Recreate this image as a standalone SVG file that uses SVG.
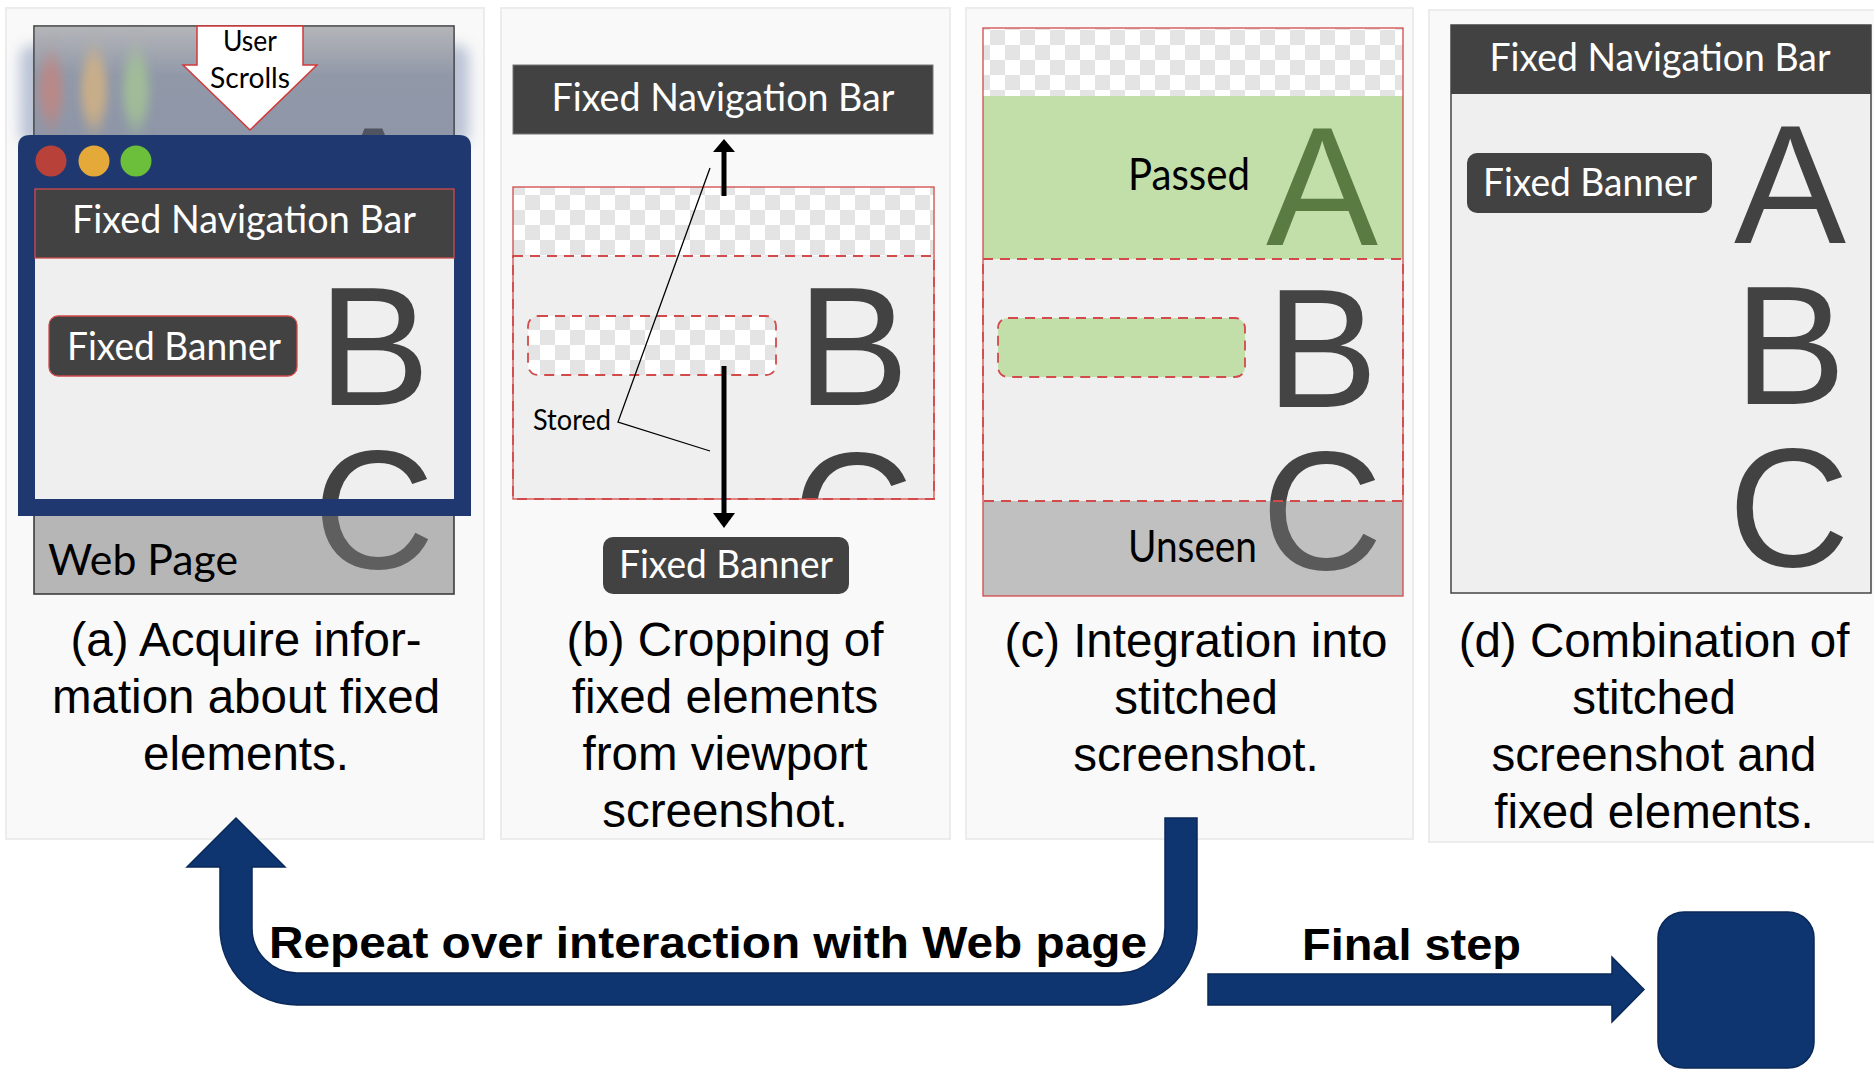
<svg xmlns="http://www.w3.org/2000/svg" width="1874" height="1074" viewBox="0 0 1874 1074">
  <style>
    .panel { fill: #f9f9f9; stroke: #ececec; stroke-width: 2; }
    .bar { fill: #424242; }
    .lbl { font-family: Lato, "Open Sans", "DejaVu Sans", sans-serif; fill: #ffffff; font-size: 38px; }
    .dark { font-family: Lato, "Open Sans", "DejaVu Sans", sans-serif; fill: #000000; }
    .big { font-family: "Liberation Sans", Arial, sans-serif; font-size: 168px; text-anchor: middle; }
    .cap { font-family: "Liberation Sans", Arial, sans-serif; font-size: 47.5px; text-anchor: middle; fill: #000; }
    .bold { font-family: "Liberation Sans", Arial, sans-serif; font-weight: bold; font-size: 44px; fill: #000; }
    .redline { fill: none; stroke: #d24a4a; stroke-width: 1.3; }
    .dash { fill: none; stroke: #d24a4a; stroke-width: 1.8; stroke-dasharray: 10 7; }
    .flow { fill: #0e3570; stroke: #0a2858; stroke-width: 1.5; }
  </style>
  <defs>
    <pattern id="checker" width="30" height="30" patternUnits="userSpaceOnUse">
      <rect width="30" height="30" fill="#ffffff"/>
      <rect width="15" height="15" fill="#e4e4e4"/>
      <rect x="15" y="15" width="15" height="15" fill="#e4e4e4"/>
    </pattern>
    <linearGradient id="pageTop" x1="0" y1="26" x2="0" y2="135" gradientUnits="userSpaceOnUse">
      <stop offset="0" stop-color="#b4b5b8"/>
      <stop offset="0.45" stop-color="#9199a9"/>
      <stop offset="1" stop-color="#8e96a7"/>
    </linearGradient>
    <filter id="motion" x="-30%" y="-60%" width="160%" height="220%">
      <feGaussianBlur stdDeviation="4 10"/>
    </filter>
    <filter id="glow" x="-20%" y="-60%" width="140%" height="220%">
      <feGaussianBlur stdDeviation="7"/>
    </filter>
    <clipPath id="aboveA"><rect x="34" y="26" width="420" height="109"/></clipPath>
    <clipPath id="viewA"><rect x="35" y="189" width="419" height="310"/></clipPath>
    <clipPath id="shotB"><rect x="513" y="187" width="421" height="312"/></clipPath>
    <clipPath id="seenC"><rect x="983" y="28" width="420" height="473"/></clipPath>
    <clipPath id="unseenC"><rect x="983" y="501" width="420" height="95"/></clipPath>
  </defs>

  <!-- panel backgrounds -->
  <g id="panels">
    <rect class="panel" x="6" y="8" width="478" height="831"/>
    <rect class="panel" x="501" y="8" width="449" height="831"/>
    <rect class="panel" x="966" y="8" width="447" height="831"/>
    <rect class="panel" x="1429" y="10" width="452" height="832"/>
  </g>

  <!-- (a) browser viewport over the web page -->
  <g id="step-a">
    <rect x="20" y="45" width="449" height="100" rx="12" fill="#aab5cc" filter="url(#glow)" opacity="0.8"/>
    <rect x="34" y="26" width="420" height="568" fill="#b6b6b6" stroke="#333" stroke-width="1.5"/>
    <rect x="34.75" y="26.75" width="418.5" height="110" fill="url(#pageTop)"/>
    <g filter="url(#motion)">
      <ellipse cx="51" cy="90" rx="12" ry="34" fill="#cc7f76" opacity="0.65"/>
      <ellipse cx="94" cy="90" rx="13" ry="38" fill="#e0b77c" opacity="0.7"/>
      <ellipse cx="136" cy="90" rx="13" ry="38" fill="#a6cb92" opacity="0.7"/>
    </g>
    <text class="big" x="373" y="245" fill="#4f5460" clip-path="url(#aboveA)">A</text>
    <text class="big" x="374" y="568" fill="#5f5f5f">C</text>

    <path d="M18,516 V147 Q18,135 30,135 H459 Q471,135 471,147 V516 Z" fill="#1f3970"/>
    <rect x="35" y="189" width="419" height="310" fill="#efefef"/>
    <circle cx="51" cy="161" r="15.5" fill="#b8423a"/>
    <circle cx="94" cy="161" r="15.5" fill="#e5a93a"/>
    <circle cx="136" cy="161" r="15.5" fill="#6cbf3b"/>

    <g clip-path="url(#viewA)">
      <text class="big" x="374" y="405" fill="#424242">B</text>
      <text class="big" x="374" y="568" fill="#424242">C</text>
    </g>
    <rect class="bar" x="35" y="189" width="419" height="69" stroke="#d24a4a" stroke-width="1.3"/>
    <text class="lbl" x="244" y="233" text-anchor="middle" textLength="344" lengthAdjust="spacingAndGlyphs">Fixed Navigation Bar</text>
    <rect class="bar" x="49" y="316" width="248" height="60" rx="9" stroke="#d24a4a" stroke-width="1.3"/>
    <text class="lbl" x="174" y="360" text-anchor="middle" textLength="214" lengthAdjust="spacingAndGlyphs">Fixed Banner</text>

    <polygon points="197,26 303,26 303,65 317,65 250,130 183,65 197,65" fill="#ffffff" stroke="#d23a3a" stroke-width="1.5"/>
    <text class="dark" x="250" y="51" font-size="28" text-anchor="middle" textLength="54" lengthAdjust="spacingAndGlyphs">User</text>
    <text class="dark" x="250" y="88" font-size="28" text-anchor="middle" textLength="80" lengthAdjust="spacingAndGlyphs">Scrolls</text>
    <text class="dark" x="48" y="575" font-size="42" textLength="190" lengthAdjust="spacingAndGlyphs">Web Page</text>

    <text class="cap" x="246" y="656">(a) Acquire infor-</text>
    <text class="cap" x="246" y="713">mation about fixed</text>
    <text class="cap" x="246" y="770">elements.</text>
  </g>

  <!-- (b) cropping of fixed elements -->
  <g id="step-b">
    <rect class="bar" x="513" y="65" width="420" height="69" stroke="#777" stroke-width="1"/>
    <text class="lbl" x="723" y="111" text-anchor="middle" textLength="343" lengthAdjust="spacingAndGlyphs">Fixed Navigation Bar</text>

    <rect x="513" y="187" width="421" height="69" fill="url(#checker)"/>
    <rect x="513" y="256" width="421" height="243" fill="#efefef"/>
    <rect x="528" y="316" width="248" height="59" rx="10" fill="url(#checker)"/>
    <g clip-path="url(#shotB)">
      <text class="big" x="853" y="405" fill="#424242">B</text>
      <text class="big" x="853" y="570" fill="#424242">C</text>
    </g>
    <rect class="redline" x="513" y="187" width="421" height="312"/>
    <rect class="dash" x="513" y="256" width="421" height="243"/>
    <rect class="dash" x="528" y="316" width="248" height="59" rx="10"/>

    <rect class="bar" x="603" y="537" width="246" height="57" rx="10"/>
    <text class="lbl" x="726" y="578" text-anchor="middle" textLength="214" lengthAdjust="spacingAndGlyphs">Fixed Banner</text>

    <polyline points="710,168 618,422 710,451" fill="none" stroke="#000" stroke-width="1.3"/>
    <text class="dark" x="533" y="430" font-size="29" textLength="78" lengthAdjust="spacingAndGlyphs">Stored</text>

    <text class="cap" x="725" y="656">(b) Cropping of</text>
    <text class="cap" x="725" y="713">fixed elements</text>
    <text class="cap" x="725" y="770">from viewport</text>
    <text class="cap" x="725" y="827">screenshot.</text>
  </g>

  <!-- (c) integration into the stitched screenshot -->
  <g id="step-c">
    <rect x="983" y="28" width="420" height="68" fill="url(#checker)"/>
    <rect x="983" y="96" width="420" height="163" fill="#c2dfaa"/>
    <rect x="983" y="259" width="420" height="242" fill="#efefef"/>
    <rect x="983" y="501" width="420" height="95" fill="#c0c0c0"/>
    <rect x="998" y="318" width="247" height="59" rx="10" fill="#c2dfaa"/>
    <text class="big" x="1322" y="245" fill="#5a7b42">A</text>
    <text class="big" x="1322" y="407" fill="#444444">B</text>
    <text class="big" x="1322" y="569" fill="#444444" clip-path="url(#seenC)">C</text>
    <text class="big" x="1322" y="569" fill="#5a5a5a" clip-path="url(#unseenC)">C</text>
    <rect class="redline" x="983" y="28" width="420" height="568"/>
    <rect class="dash" x="983" y="259" width="420" height="242"/>
    <rect class="dash" x="998" y="318" width="247" height="59" rx="10"/>
    <text class="dark" x="1128" y="190" font-size="44" textLength="122" lengthAdjust="spacingAndGlyphs">Passed</text>
    <text class="dark" x="1128" y="562" font-size="44" textLength="129" lengthAdjust="spacingAndGlyphs">Unseen</text>

    <text class="cap" x="1196" y="657">(c) Integration into</text>
    <text class="cap" x="1196" y="714">stitched</text>
    <text class="cap" x="1196" y="771">screenshot.</text>
  </g>

  <!-- (d) final combination -->
  <g id="step-d">
    <rect x="1451" y="25" width="420" height="568" fill="#efefef" stroke="#444" stroke-width="1.5"/>
    <rect class="bar" x="1451" y="25" width="420" height="69"/>
    <text class="lbl" x="1660" y="71" text-anchor="middle" textLength="341" lengthAdjust="spacingAndGlyphs">Fixed Navigation Bar</text>
    <rect class="bar" x="1467" y="153" width="245" height="60" rx="10"/>
    <text class="lbl" x="1590" y="196" text-anchor="middle" textLength="214" lengthAdjust="spacingAndGlyphs">Fixed Banner</text>
    <text class="big" x="1790" y="243" fill="#424242">A</text>
    <text class="big" x="1790" y="404" fill="#424242">B</text>
    <text class="big" x="1789" y="566" fill="#424242">C</text>

    <text class="cap" x="1654" y="657">(d) Combination of</text>
    <text class="cap" x="1654" y="714">stitched</text>
    <text class="cap" x="1654" y="771">screenshot and</text>
    <text class="cap" x="1654" y="828">fixed elements.</text>
  </g>

  <!-- arrows -->
  <g id="connectors">
    <line x1="724" y1="196" x2="724" y2="150" stroke="#000" stroke-width="5"/>
    <polygon points="713,152 735,152 724,139" fill="#000"/>
    <line x1="724" y1="366" x2="724" y2="516" stroke="#000" stroke-width="5"/>
    <polygon points="713,513 735,513 724,528" fill="#000"/>

    <path class="flow" d="M236,818 L285,867 L252,867 L252,928 A45,45 0 0 0 297,973 L1120,973 A45,45 0 0 0 1165,928 L1165,818 L1197,818 L1197,928 A77,77 0 0 1 1120,1005 L297,1005 A77,77 0 0 1 220,928 L220,867 L187,867 Z"/>
    <polygon class="flow" points="1208,974 1612,974 1612,957 1644,989.5 1612,1022 1612,1005 1208,1005"/>
    <text class="bold" x="269" y="958" textLength="878" lengthAdjust="spacingAndGlyphs">Repeat over interaction with Web page</text>
    <text class="bold" x="1302" y="960" textLength="219" lengthAdjust="spacingAndGlyphs">Final step</text>
  </g>

  <g id="result">
    <rect class="flow" x="1658" y="912" width="156" height="156" rx="26"/>
  </g>
</svg>
